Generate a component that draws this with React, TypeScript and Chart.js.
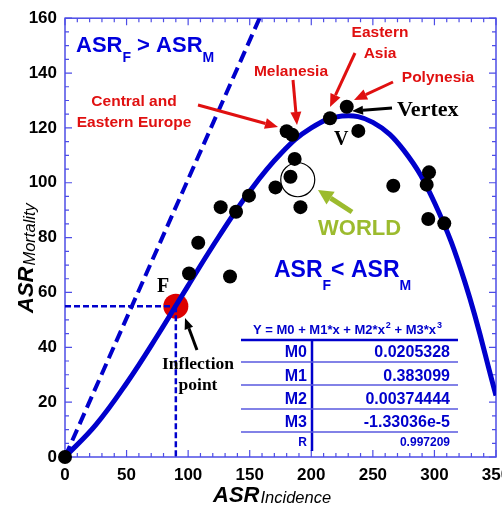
import React, { useEffect, useRef } from "react";
import { Chart, registerables } from "chart.js";

Chart.register(...registerables);

// ---- data ----
const curveX = [0, 25, 50, 75, 100, 125, 150, 175, 200, 225, 250, 275, 300, 325, 350];
const curveY = [0.0, 11.7, 26.9, 44.2, 62.5, 80.4, 96.9, 110.5, 120.0, 124.3, 122.0, 111.9, 92.8, 63.4, 22.4];

const dotX = [0, 100.7, 134.0, 108.2, 126.4, 138.9, 149.4, 170.9, 183.1, 186.5, 191.2, 180.0, 184.5, 215.2, 228.8, 238.2, 266.6, 295.6, 293.7, 295.0, 308.0];
const dotY = [0, 66.9, 65.8, 78.1, 91.1, 89.4, 95.3, 98.3, 102.2, 108.7, 91.1, 118.8, 117.5, 123.5, 127.7, 118.9, 98.9, 103.8, 99.3, 86.8, 85.2];

const equalX = [0, 158];
const equalY = [0, 160];

const inflX = [90];
const inflY = [55];

const worldX = [189];
const worldY = [101.1];

const xTickValues = [0, 50, 100, 150, 200, 250, 300, 350];
const yTickValues = [0, 20, 40, 60, 80, 100, 120, 140, 160];

const coefNames = ["M0", "M1", "M2", "M3", "R"];
const coefValues = ["0.0205328", "0.383099", "0.00374444", "-1.33036e-5", "0.997209"];

const BLUE = "#0000cc";
const FRAME = "#4d4de6";
const RED = "#e01010";
const SANS = '"Liberation Sans", Arial, sans-serif';
const SERIF = '"Liberation Serif", "Times New Roman", serif';

const CANVAS_W = 530;
const CANVAS_H = 507;

function pts(xs: number[], ys: number[]) {
  return xs.map((x, i) => ({ x, y: ys[i] }));
}

type Seg = { t: string; font: string; dy?: number; dx?: number };
function drawSegs(ctx: CanvasRenderingContext2D, segs: Seg[], x: number, y: number, color: string) {
  ctx.fillStyle = color;
  ctx.textAlign = "left";
  ctx.textBaseline = "alphabetic";
  let cx = x;
  for (const s of segs) {
    ctx.font = s.font;
    cx += s.dx || 0;
    ctx.fillText(s.t, cx, y + (s.dy || 0));
    cx += ctx.measureText(s.t).width;
  }
}

function arrow(ctx: CanvasRenderingContext2D, x1: number, y1: number, x2: number, y2: number, color: string, lw: number, hl: number, hw: number) {
  const ang = Math.atan2(y2 - y1, x2 - x1);
  const bx = x2 - hl * Math.cos(ang);
  const by = y2 - hl * Math.sin(ang);
  ctx.save();
  ctx.strokeStyle = color;
  ctx.fillStyle = color;
  ctx.lineWidth = lw;
  ctx.lineCap = "butt";
  ctx.beginPath();
  ctx.moveTo(x1, y1);
  ctx.lineTo(bx, by);
  ctx.stroke();
  ctx.beginPath();
  ctx.moveTo(x2, y2);
  ctx.lineTo(bx + (hw / 2) * Math.sin(ang), by - (hw / 2) * Math.cos(ang));
  ctx.lineTo(bx - (hw / 2) * Math.sin(ang), by + (hw / 2) * Math.cos(ang));
  ctx.closePath();
  ctx.fill();
  ctx.restore();
}

function centerText(ctx: CanvasRenderingContext2D, t: string, x: number, y: number, font: string, color: string) {
  ctx.font = font;
  ctx.fillStyle = color;
  ctx.textAlign = "center";
  ctx.textBaseline = "alphabetic";
  ctx.fillText(t, x, y);
}

const framePlugin = {
  id: "frameTicks",
  beforeDatasetsDraw(chart: any) {
    const { ctx, chartArea: a, scales } = chart;
    const xs = scales.x;
    const ys = scales.y;
    ctx.save();
    ctx.strokeStyle = FRAME;
    ctx.lineWidth = 1.5;
    ctx.strokeRect(a.left, a.top, a.right - a.left, a.bottom - a.top);
    ctx.lineWidth = 1.2;
    ctx.beginPath();
    for (let v = 0; v <= 350; v += 10) {
      const px = xs.getPixelForValue(v);
      const len = v % 50 === 0 ? 7 : 4;
      ctx.moveTo(px, a.bottom);
      ctx.lineTo(px, a.bottom - len);
      ctx.moveTo(px, a.top);
      ctx.lineTo(px, a.top + len);
    }
    for (let v = 0; v <= 160; v += 5) {
      const py = ys.getPixelForValue(v);
      const len = v % 20 === 0 ? 7 : 4;
      ctx.moveTo(a.left, py);
      ctx.lineTo(a.left + len, py);
      ctx.moveTo(a.right, py);
      ctx.lineTo(a.right - len, py);
    }
    ctx.stroke();
    ctx.restore();
  },
};

const annotPlugin = {
  id: "annotations",
  afterDatasetsDraw(chart: any) {
    const ctx: CanvasRenderingContext2D = chart.ctx;
    ctx.save();

    // region labels
    drawSegs(
      ctx,
      [
        { t: "ASR", font: `bold 22px ${SANS}` },
        { t: "F", font: `bold 14px ${SANS}`, dy: 10 },
        { t: " > ", font: `bold 22px ${SANS}` },
        { t: "ASR", font: `bold 22px ${SANS}` },
        { t: "M", font: `bold 14px ${SANS}`, dy: 10 },
      ],
      76, 52, "#0000dd"
    );
    drawSegs(
      ctx,
      [
        { t: "ASR", font: `bold 23px ${SANS}` },
        { t: "F", font: `bold 14px ${SANS}`, dy: 13 },
        { t: "< ", font: `bold 23px ${SANS}` },
        { t: "ASR", font: `bold 23px ${SANS}` },
        { t: "M", font: `bold 14px ${SANS}`, dy: 13 },
      ],
      274, 277, "#0000dd"
    );

    // region names
    const rf = `bold 15.5px ${SANS}`;
    centerText(ctx, "Central and", 134, 106, rf, RED);
    centerText(ctx, "Eastern Europe", 134, 127, rf, RED);
    centerText(ctx, "Melanesia", 291, 76, rf, RED);
    centerText(ctx, "Eastern", 380, 37, rf, RED);
    centerText(ctx, "Asia", 380, 58, rf, RED);
    centerText(ctx, "Polynesia", 438, 82, rf, RED);

    arrow(ctx, 198, 105, 278, 127, RED, 3, 13, 11);
    arrow(ctx, 293, 80, 297, 125, RED, 3, 13, 11);
    arrow(ctx, 355, 53, 330, 107, RED, 3, 13, 11);
    arrow(ctx, 393, 82, 354, 100, RED, 3, 13, 11);

    // Vertex
    ctx.font = `bold 22px ${SERIF}`;
    ctx.fillStyle = "#000";
    ctx.textAlign = "left";
    ctx.fillText("Vertex", 397, 116);
    arrow(ctx, 392, 108, 352, 111, "#000", 3, 11, 9);
    ctx.font = `bold 20px ${SERIF}`;
    ctx.fillText("V", 334, 145);

    // WORLD
    ctx.font = `bold 22px ${SANS}`;
    ctx.fillStyle = "#9cbb2e";
    ctx.fillText("WORLD", 318, 235);
    arrow(ctx, 352, 212, 318, 190, "#9cbb2e", 5, 15, 15);

    // Inflection
    ctx.fillStyle = "#000";
    ctx.font = `bold 20px ${SERIF}`;
    ctx.fillText("F", 157, 292);
    centerText(ctx, "Inflection", 198, 369, `bold 17.5px ${SERIF}`, "#000");
    centerText(ctx, "point", 198, 390, `bold 17.5px ${SERIF}`, "#000");
    arrow(ctx, 197, 350, 185, 318, "#000", 3, 11, 9);

    // table
    const tb = "#0000cc";
    drawSegs(
      ctx,
      [
        { t: "Y = M0 + M1*x + M2*x", font: `bold 13px ${SANS}` },
        { t: "2", font: `bold 9px ${SANS}`, dy: -6, dx: 1 },
        { t: " + M3*x", font: `bold 13px ${SANS}` },
        { t: "3", font: `bold 9px ${SANS}`, dy: -6, dx: 1 },
      ],
      253, 334, tb
    );
    ctx.strokeStyle = tb;
    ctx.lineWidth = 2.5;
    ctx.beginPath();
    ctx.moveTo(241, 340);
    ctx.lineTo(458, 340);
    ctx.moveTo(312, 340);
    ctx.lineTo(312, 451);
    ctx.stroke();
    ctx.strokeStyle = "#5a5ae0";
    ctx.lineWidth = 1.5;
    ctx.beginPath();
    for (const yy of [362, 385, 409, 432]) {
      ctx.moveTo(241, yy);
      ctx.lineTo(458, yy);
    }
    ctx.stroke();
    const baselines = [357, 380.5, 404, 427, 446];
    ctx.fillStyle = tb;
    coefNames.forEach((n, i) => {
      const f = i === 4 ? `bold 12px ${SANS}` : `bold 16px ${SANS}`;
      ctx.font = f;
      ctx.textAlign = "right";
      ctx.fillText(n, 307, baselines[i]);
      ctx.fillText(coefValues[i], 450, baselines[i]);
    });

    // axis titles
    ctx.fillStyle = "#000";
    drawSegs(
      ctx,
      [
        { t: "ASR", font: `italic bold 22px ${SANS}` },
        { t: "Incidence", font: `italic 16.5px ${SANS}`, dx: 1, dy: 1 },
      ],
      213, 501.5, "#000"
    );
    ctx.save();
    ctx.translate(33, 313);
    ctx.rotate(-Math.PI / 2);
    drawSegs(
      ctx,
      [
        { t: "ASR", font: `italic bold 22px ${SANS}` },
        { t: "Mortality", font: `italic 16.5px ${SANS}`, dx: 1, dy: 1.5 },
      ],
      0, 0, "#000"
    );
    ctx.restore();

    ctx.restore();
  },
};

export default function App() {
  const ref = useRef<HTMLCanvasElement | null>(null);

  useEffect(() => {
    if (!ref.current) return;
    const chart = new Chart(ref.current, {
      type: "scatter",
      data: {
        datasets: [
          {
            label: "dots",
            data: pts(dotX, dotY),
            pointRadius: 7,
            pointBackgroundColor: "#000",
            pointBorderWidth: 0,
            showLine: false,
            clip: false,
            order: 0,
          } as any,
          {
            label: "world",
            data: pts(worldX, worldY),
            pointRadius: 17,
            pointBackgroundColor: "rgba(0,0,0,0)",
            pointBorderColor: "#000",
            pointBorderWidth: 1.2,
            showLine: false,
            order: 1,
          } as any,
          {
            label: "fit",
            data: pts(curveX, curveY),
            showLine: true,
            borderColor: BLUE,
            borderWidth: 5,
            pointRadius: 0,
            tension: 0.4,
            order: 2,
          } as any,
          {
            label: "equal",
            data: pts(equalX, equalY),
            showLine: true,
            borderColor: BLUE,
            borderWidth: 4,
            borderDash: [12, 6],
            pointRadius: 0,
            order: 3,
          } as any,
          {
            label: "hline",
            data: [{ x: 0, y: inflY[0] }, { x: inflX[0], y: inflY[0] }],
            showLine: true,
            borderColor: BLUE,
            borderWidth: 2.5,
            borderDash: [6, 3],
            pointRadius: 0,
            order: 4,
          } as any,
          {
            label: "vline",
            data: [{ x: inflX[0], y: inflY[0] }, { x: inflX[0], y: 0 }],
            showLine: true,
            borderColor: BLUE,
            borderWidth: 2.5,
            borderDash: [6, 3],
            pointRadius: 0,
            order: 5,
          } as any,
          {
            label: "inflection",
            data: pts(inflX, inflY),
            pointRadius: 12.5,
            pointBackgroundColor: "#dd0000",
            pointBorderWidth: 0,
            showLine: false,
            order: 6,
          } as any,
        ],
      },
      options: {
        animation: false,
        responsive: false,
        devicePixelRatio: 1,
        events: [],
        layout: { padding: { top: 16, right: CANVAS_W - 496, left: 0, bottom: 0 } },
        plugins: { legend: { display: false }, tooltip: { enabled: false } },
        scales: {
          x: {
            type: "linear",
            min: 0,
            max: 350,
            afterBuildTicks: (s: any) => {
              s.ticks = xTickValues.map((v) => ({ value: v }));
            },
            afterFit: (s: any) => {
              s.height = 50;
            },
            ticks: {
              color: "#000",
              font: { family: SANS, size: 17, weight: "bold" },
              padding: 8,
              maxRotation: 0,
            },
            grid: { display: false, drawTicks: false },
            border: { display: false },
          },
          y: {
            type: "linear",
            min: 0,
            max: 160,
            afterBuildTicks: (s: any) => {
              s.ticks = yTickValues.map((v) => ({ value: v }));
            },
            afterFit: (s: any) => {
              s.width = 65;
            },
            ticks: {
              color: "#000",
              font: { family: SANS, size: 17, weight: "bold" },
              padding: 8,
            },
            grid: { display: false, drawTicks: false },
            border: { display: false },
          },
        },
      } as any,
      plugins: [framePlugin, annotPlugin],
    });
    return () => chart.destroy();
  }, []);

  return (
    <div style={{ position: "fixed", left: 0, top: 0, width: 502, height: 507, overflow: "hidden", background: "#fff" }}>
      <canvas ref={ref} width={CANVAS_W} height={CANVAS_H} style={{ display: "block" }} />
    </div>
  );
}
